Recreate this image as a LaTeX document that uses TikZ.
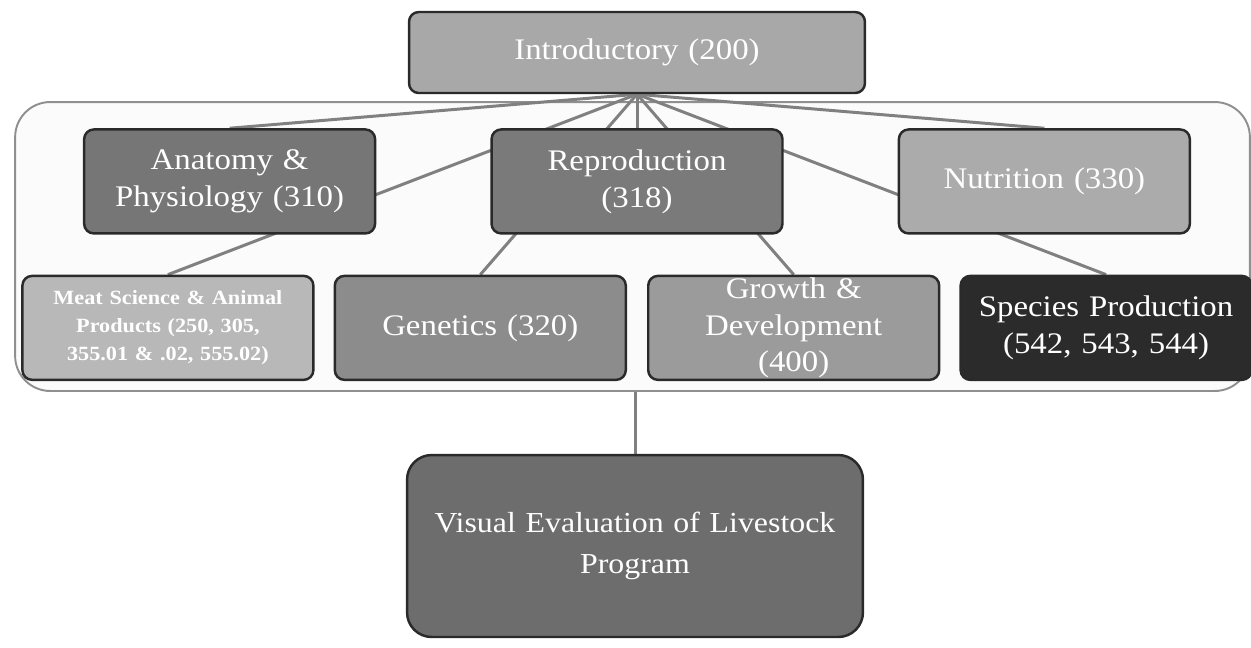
\documentclass[tikz,border=0pt]{standalone}
\usepackage{fontspec}
\setmainfont[FakeStretch=1.1]{Liberation Serif}
\usetikzlibrary{positioning}

\pgfdeclarelayer{back}
\pgfdeclarelayer{wires}
\pgfsetlayers{back,wires,main}

\definecolor{boxline}{HTML}{2A2A2A}
\definecolor{linkgray}{HTML}{808080}
\definecolor{panelgray}{HTML}{8F8F8F}
\definecolor{introfill}{HTML}{A8A8A8}
\definecolor{anatfill}{HTML}{767676}
\definecolor{reprofill}{HTML}{7A7A7A}
\definecolor{nutrfill}{HTML}{ABABAB}
\definecolor{meatfill}{HTML}{B8B8B8}
\definecolor{genfill}{HTML}{8C8C8C}
\definecolor{growfill}{HTML}{9B9B9B}
\definecolor{specfill}{HTML}{2B2B2B}
\definecolor{visfill}{HTML}{6D6D6D}

\begin{document}
\begin{tikzpicture}[
  x=0.02cm, y=-0.02cm,
  font=\fontsize{17}{21}\selectfont,
  box/.style={draw=boxline,line width=1.4pt,rounded corners=5.5pt,align=center,inner sep=0pt,
              text=white,minimum width=5.82cm,minimum height=2.08cm,text width=5.5cm},
  wide/.style={minimum width=9.12cm,text width=8.6cm},
  link/.style={draw=linkgray,line width=1.7pt},
  panel/.style={draw=panelgray,line width=1.1pt,rounded corners=20pt,fill=gray!3}]
\useasboundingbox (0,0) rectangle (1251,647);

\node[box,wide,fill=introfill,minimum height=1.62cm] (intro) at (637,52.5) {Introductory (200)};
\node[box,fill=reprofill,below=0.68cm of intro] (repro) {Reproduction\\(318)};
\node[box,fill=anatfill,left=2.28cm of repro] (anat) {Anatomy \&\\Physiology (310)};
\node[box,fill=nutrfill,right=2.28cm of repro] (nutr) {Nutrition (330)};

\node[box,fill=genfill,below left=0.8cm and 0.2cm of repro.south] (gen) {Genetics (320)};
\node[box,fill=growfill,below right=0.8cm and 0.2cm of repro.south] (growth) {Growth \&\\Development\\(400)};
\node[box,fill=meatfill,left=0.38cm of gen,font=\bfseries\fontsize{11.5}{16}\selectfont] (meat)
     {Meat Science \& Animal\\Products (250, 305,\\355.01 \& .02, 555.02)};
\node[box,fill=specfill,right=0.38cm of growth] (species) {Species Production\\(542, 543, 544)};

\node[box,wide,fill=visfill,minimum height=3.64cm,rounded corners=14pt,
      font=\fontsize{16.5}{23}\selectfont] (visual) at (635,546) {Visual Evaluation of Livestock\\Program};

\begin{pgfonlayer}{back}
\node[panel,minimum width=24.7cm,minimum height=5.78cm] (group) at (632.5,246.5) {};
\end{pgfonlayer}

\begin{pgfonlayer}{wires}
\foreach \t in {anat,meat,gen,repro,growth,species,nutr}
  \draw[link] (intro.south) -- (\t.north);
\draw[link] (visual.north |- group.south) -- (visual.north);
\end{pgfonlayer}
\end{tikzpicture}
\end{document}
